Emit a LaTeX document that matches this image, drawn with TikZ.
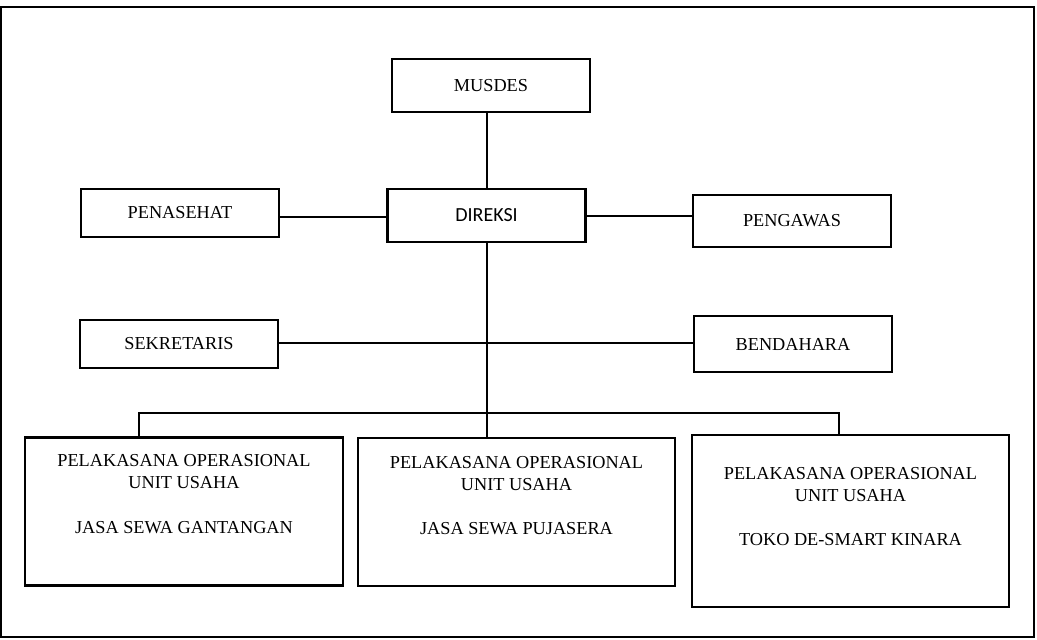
\documentclass[tikz,border=0pt]{standalone}
\usepackage{fontspec}
\setmainfont{Liberation Serif}
\newfontfamily\calibrifont{Carlito}
\usetikzlibrary{positioning}

\begin{document}
\begin{tikzpicture}
  [x=0.75pt, y=-0.75pt, line width=1.5pt, draw=black,
   font=\fontsize{13.7}{16.5}\selectfont,
   orgbox/.style={draw, line width=1.6pt, rectangle, inner sep=0pt,
     minimum width=148.5pt, minimum height=#1},
   orgbox/.default=39pt,
   unitbox/.style={draw, line width=1.6pt, rectangle, inner sep=0pt,
     minimum width=238pt, minimum height=#1},
   unittext/.style={inner sep=0pt, align=center}]

\useasboundingbox (0,0) rectangle (1037,639);
\draw[line width=1.6pt] (1,7) rectangle (1034,637);

% top of the chart
\node[orgbox=40pt] (musdes) at (491,85.5) {MUSDES};
\node[orgbox=40pt] (direksi) at (486.5,215.5) {\calibrifont\fontsize{15}{18}\selectfont DIREKSI};
\node[orgbox=36pt] (penasehat) at (180,213) {PENASEHAT};
\node[orgbox=39pt] (pengawas) at (792,221) {PENGAWAS};
\node[orgbox=36pt] (sekretaris) at (179,344) {SEKRETARIS};
\node[orgbox=42pt] (bendahara) at (793,344) {BENDAHARA};

% unit usaha
\node[unitbox=111pt] (unit1) at (184,511.5) {};
\node[unitbox=111pt] (unit2) at (516.5,512) {};
\node[unitbox=129pt] (unit3) at (850.5,521) {};

\node[unittext, below=12.75pt of unit1.north] (text1)
  {PELAKASANA OPERASIONAL\\UNIT USAHA\\[17pt]JASA SEWA GANTANGAN};
\node[unittext, below=13.5pt of unit2.north] (text2)
  {PELAKASANA OPERASIONAL\\UNIT USAHA\\[17pt]JASA SEWA PUJASERA};
\node[unittext, below=24pt of unit3.north] (text3)
  {PELAKASANA OPERASIONAL\\UNIT USAHA\\[17pt]TOKO DE-SMART KINARA};

\coordinate (busL) at (139,413);
\coordinate (busR) at (839,413);

\draw (direksi.north) -- (direksi.north |- musdes.south);
\draw (direksi.west |- 0,217) -- (penasehat.east |- 0,217);
\draw (direksi.east |- 0,216) -- (pengawas.west |- 0,216);
\draw (sekretaris.east |- 0,343) -- (bendahara.west |- 0,343);
\draw (direksi.south) -- (unit2.north -| direksi.south);
\draw (unit1.north -| busL) -- (busL) -- (busR) -- (unit3.north -| busR);
\end{tikzpicture}
\end{document}
